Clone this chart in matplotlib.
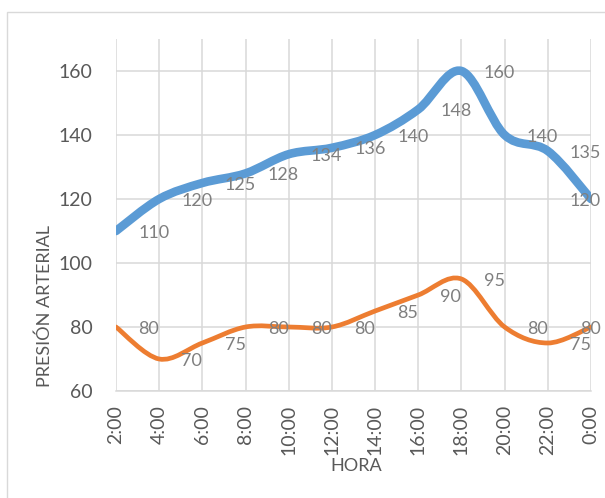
import matplotlib
matplotlib.use("Agg")
import matplotlib.pyplot as plt
from matplotlib.path import Path
from matplotlib.patches import PathPatch, Rectangle
import numpy as np

plt.rcParams['font.family'] = ['Lato', 'DejaVu Sans']

horas = ["2:00", "4:00", "6:00", "8:00", "10:00", "12:00", "14:00",
         "16:00", "18:00", "20:00", "22:00", "0:00"]
sistolica = [110, 120, 125, 128, 134, 136, 140, 148, 160, 140, 135, 120]
diastolica = [80, 70, 75, 80, 80, 80, 85, 90, 95, 80, 75, 80]

W, H = 605, 498
fig = plt.figure(figsize=(W / 100, H / 100), dpi=100)
ax = fig.add_axes([116 / W, 1 - 391 / H, (591 - 116) / W, (391 - 39) / H])

# outer chart border
fig.patches.append(Rectangle((7 / W, -0.05), 1.2, 1 - 12 / H + 0.05,
                             transform=fig.transFigure, fill=False,
                             edgecolor='#d9d9d9', lw=1.0))


def smooth_path(xs, ys):
    pts = np.column_stack([xs, ys]).astype(float)
    n = len(pts)
    verts = [pts[0]]
    codes = [Path.MOVETO]
    for i in range(n - 1):
        p0 = pts[i - 1] if i > 0 else pts[i]
        p1 = pts[i]
        p2 = pts[i + 1]
        p3 = pts[i + 2] if i + 2 < n else pts[i + 1]
        c1 = p1 + (p2 - p0) / 6.0
        c2 = p2 - (p3 - p1) / 6.0
        verts += [c1, c2, p2]
        codes += [Path.CURVE4] * 3
    return Path(verts, codes)


x = np.arange(len(horas))
for vals, color, lw in [(sistolica, '#5B9BD5', 6.2), (diastolica, '#ED7D31', 3.4)]:
    ax.add_patch(PathPatch(smooth_path(x, vals), facecolor='none',
                           edgecolor=color, lw=lw, capstyle='round',
                           joinstyle='round', zorder=3))

ax.set_xlim(0, len(horas) - 1)
ax.set_ylim(60, 170)
ax.set_yticks(np.arange(60, 161, 20))
ax.set_xticks(x)
ax.set_xticklabels(horas, rotation=90)
ax.tick_params(axis='both', length=0, labelsize=14, labelcolor='#595959')
ax.tick_params(axis='y', pad=17)
ax.tick_params(axis='x', pad=10)
ax.grid(True, color='#d9d9d9', lw=1.1, zorder=0)
for s in ['top', 'right', 'left']:
    ax.spines[s].set_visible(False)
ax.spines['bottom'].set_color('#d9d9d9')
ax.spines['bottom'].set_linewidth(1.1)
ax.set_axisbelow(True)

labels = []
for vals in (sistolica, diastolica):
    for i, v in enumerate(vals):
        t = ax.annotate(str(v), xy=(i, v), xytext=(16, 0),
                        textcoords='offset points', ha='left',
                        va='center_baseline', fontsize=13, color='#7f7f7f',
                        zorder=4, annotation_clip=False)
        labels.append(t)

fig.text(45 / W, 1 - 306 / H, "PRESIÓN ARTERIAL", rotation=90, ha='center',
         va='center', fontsize=13, color='#595959')
fig.text(356 / W, 1 - 466 / H, "HORA", ha='center', va='center',
         fontsize=13, color='#595959')

# keep data labels inside the chart's right limit
fig.canvas.draw()
r = fig.canvas.get_renderer()
limit = 601
for t in labels:
    bb = t.get_window_extent(r)
    if bb.x1 > limit:
        shift = (bb.x1 - limit) * 72 / fig.dpi
        ox, oy = t.xyann
        t.xyann = (ox - shift, oy)

fig.savefig("out.png", dpi=100)
